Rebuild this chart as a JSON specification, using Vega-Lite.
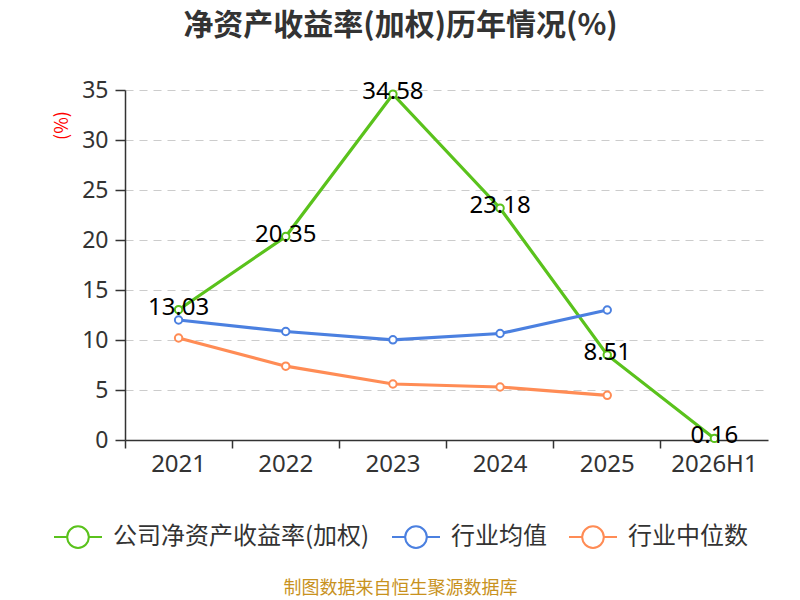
{
  "$schema": "https://vega.github.io/schema/vega-lite/v6.json",
  "autosize": "none",
  "width": 643,
  "height": 350,
  "padding": {"left": 125, "top": 90, "right": 32, "bottom": 160},
  "background": "white",
  "title": {
    "text": "净资产收益率(加权)历年情况(%)",
    "font": "Noto Sans CJK SC",
    "fontSize": 30,
    "fontWeight": "bold",
    "color": "#333333",
    "anchor": "middle",
    "frame": "group",
    "dx": -46,
    "offset": 38
  },
  "config": {
    "view": {"stroke": null},
    "font": "Noto Sans CJK SC"
  },
  "data": {
    "values": [
      {"year": "2021", "series": "公司净资产收益率(加权)", "value": 13.03},
      {"year": "2022", "series": "公司净资产收益率(加权)", "value": 20.35},
      {"year": "2023", "series": "公司净资产收益率(加权)", "value": 34.58},
      {"year": "2024", "series": "公司净资产收益率(加权)", "value": 23.18},
      {"year": "2025", "series": "公司净资产收益率(加权)", "value": 8.51},
      {"year": "2026H1", "series": "公司净资产收益率(加权)", "value": 0.16},
      {"year": "2021", "series": "行业均值", "value": 12.0},
      {"year": "2022", "series": "行业均值", "value": 10.85},
      {"year": "2023", "series": "行业均值", "value": 10.02},
      {"year": "2024", "series": "行业均值", "value": 10.65},
      {"year": "2025", "series": "行业均值", "value": 13.0},
      {"year": "2021", "series": "行业中位数", "value": 10.2},
      {"year": "2022", "series": "行业中位数", "value": 7.38},
      {"year": "2023", "series": "行业中位数", "value": 5.6},
      {"year": "2024", "series": "行业中位数", "value": 5.3},
      {"year": "2025", "series": "行业中位数", "value": 4.47}
    ]
  },
  "encoding": {
    "x": {
      "field": "year",
      "type": "ordinal",
      "sort": null,
      "scale": {"type": "band", "paddingInner": 0, "paddingOuter": 0},
      "axis": {
        "title": "制图数据来自恒生聚源数据库",
        "titleColor": "#c8921e",
        "titleFont": "Noto Sans CJK SC",
        "titleFontSize": 18,
        "titleFontWeight": "normal",
        "titleX": 275,
        "titleY": 148,
        "titleBaseline": "middle",
        "labelAngle": 0,
        "labelFont": "Noto Sans",
        "labelFontSize": 24,
        "labelColor": "#333333",
        "labelPadding": 4,
        "domainColor": "#333333",
        "domainWidth": 1.5,
        "tickColor": "#333333",
        "tickWidth": 1.5,
        "tickSize": 8,
        "bandPosition": 0,
        "grid": false
      }
    },
    "y": {
      "field": "value",
      "type": "quantitative",
      "scale": {"domain": [0, 35], "nice": false},
      "axis": {
        "title": "(%)",
        "titleColor": "#ff0000",
        "titleFont": "Noto Sans CJK SC",
        "titleFontSize": 18,
        "titleFontWeight": "normal",
        "titleX": -63,
        "titleY": 35,
        "titleAlign": "center",
        "titleBaseline": "middle",
        "values": [0, 5, 10, 15, 20, 25, 30, 35],
        "labelFont": "Noto Sans",
        "labelFontSize": 23,
        "labelColor": "#333333",
        "labelPadding": 7,
        "domainColor": "#333333",
        "domainWidth": 1.5,
        "tickColor": "#333333",
        "tickWidth": 1.5,
        "tickSize": 10,
        "grid": true,
        "gridColor": "#cccccc",
        "gridDash": [8, 6],
        "gridWidth": 1.2
      }
    }
  },
  "layer": [
    {
      "mark": {"type": "line", "strokeWidth": 3.2},
      "encoding": {
        "color": {
          "field": "series",
          "type": "nominal",
          "scale": {
            "domain": ["公司净资产收益率(加权)", "行业均值", "行业中位数"],
            "range": ["#5ac21c", "#4b80e0", "#ff8c55"]
          },
          "legend": {
            "title": null,
            "orient": "none",
            "direction": "horizontal",
            "legendX": -72,
            "legendY": 422,
            "symbolType": "M-1,0L-0.45,0M0.45,0L1,0M-0.45,0A0.45,0.45,0,1,1,0.45,0A0.45,0.45,0,1,1,-0.45,0",
            "symbolSize": 2304,
            "symbolStrokeWidth": 2,
            "symbolFillColor": "white",
            "labelFont": "Noto Sans CJK SC",
            "labelFontSize": 24,
            "labelColor": "#333333",
            "labelOffset": 10,
            "columnPadding": 18,
            "labelLimit": 400,
            "encode": {"symbols": {"update": {"fill": {"value": "white"}}}}
          }
        }
      }
    },
    {
      "mark": {"type": "point", "shape": "circle", "filled": false, "fill": "white", "fillOpacity": 1, "size": 55, "strokeWidth": 2, "opacity": 1},
      "encoding": {
        "stroke": {
          "field": "series",
          "type": "nominal",
          "legend": null,
          "scale": {
            "domain": ["公司净资产收益率(加权)", "行业均值", "行业中位数"],
            "range": ["#5ac21c", "#4b80e0", "#ff8c55"]
          }
        }
      }
    },
    {
      "transform": [{"filter": "datum.series === '公司净资产收益率(加权)'"}],
      "mark": {"type": "text", "font": "Noto Sans", "fontSize": 24, "color": "#000000", "align": "center", "baseline": "middle", "dy": -2},
      "encoding": {
        "text": {"field": "value", "type": "quantitative", "format": ".2f"}
      }
    }
  ]
}
